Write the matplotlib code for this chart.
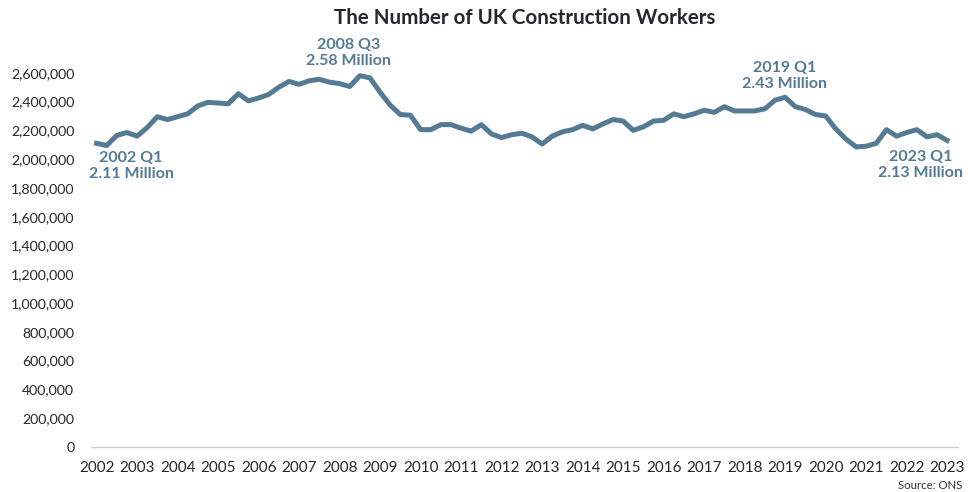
import matplotlib.pyplot as plt
import numpy as np

plt.rcParams['font.family'] = ['Lato', 'DejaVu Sans']

# 2002 Q1 .. 2023 Q1, number of workers (thousands)
workers_k = [2110, 2095, 2165, 2185, 2160, 2220, 2295, 2275, 2295, 2315,
             2370, 2395, 2390, 2385, 2455, 2405, 2425, 2450, 2500, 2540,
             2520, 2545, 2555, 2535, 2525, 2505, 2580, 2565, 2465, 2375,
             2310, 2305, 2205, 2205, 2240, 2240, 2215, 2195, 2240, 2175,
             2150, 2170, 2180, 2155, 2105, 2160, 2190, 2205, 2235, 2210,
             2245, 2275, 2265, 2200, 2225, 2265, 2270, 2315, 2295, 2315,
             2340, 2325, 2365, 2335, 2335, 2335, 2350, 2410, 2430, 2365,
             2345, 2310, 2300, 2210, 2140, 2085, 2090, 2110, 2205, 2160,
             2185, 2205, 2155, 2170, 2130]
years = [str(y) for y in range(2002, 2024)]
y_ticks = list(range(0, 2600001, 200000))

# labelled points: (quarter index, label)
notes = [(0, '2002 Q1\n2.11 Million'),
         (26, '2008 Q3\n2.58 Million'),
         (68, '2019 Q1\n2.43 Million'),
         (84, '2023 Q1\n2.13 Million')]
note_pos = [(3.4, 1955000), (24.9, 2735000), (67.9, 2578000), (81.4, 1962000)]

line_col = '#557a93'

fig = plt.figure(figsize=(9.68, 4.92), dpi=100)
ax = fig.add_axes([0.094, 0.0915, 0.896, 0.819])

x = np.arange(len(workers_k))
ax.plot(x, np.array(workers_k) * 1000, color=line_col, linewidth=3.6,
        solid_joinstyle='round')

for (i, txt), (tx, ty) in zip(notes, note_pos):
    ax.text(tx, ty, txt, ha='center', va='center', color=line_col,
            fontsize=11.5, fontweight='bold', linespacing=1.2)

ax.set_xlim(-0.55, 85.1)
ax.set_ylim(0, 2800000)
ax.set_xticks(np.arange(0, len(workers_k), 4))
ax.set_xticklabels(years)
ax.set_yticks(y_ticks)
ax.set_yticklabels([f'{v:,}' for v in y_ticks])
ax.tick_params(axis='both', length=0, colors='#26262e')
ax.tick_params(axis='x', pad=10, labelsize=11)
ax.tick_params(axis='y', pad=12, labelsize=10.2)

for s in ['top', 'right', 'left']:
    ax.spines[s].set_visible(False)
ax.spines['bottom'].set_color('#d0d0d0')
ax.spines['bottom'].set_linewidth(1)

fig.text(0.542, 0.963, 'The Number of UK Construction Workers', ha='center',
         va='center', fontsize=14.8, fontweight='bold', color='#26262e')
fig.text(0.994, 0.003, 'Source: ONS', ha='right', va='bottom', fontsize=8.2,
         color='#333333')

fig.savefig('out.png', dpi=100)
